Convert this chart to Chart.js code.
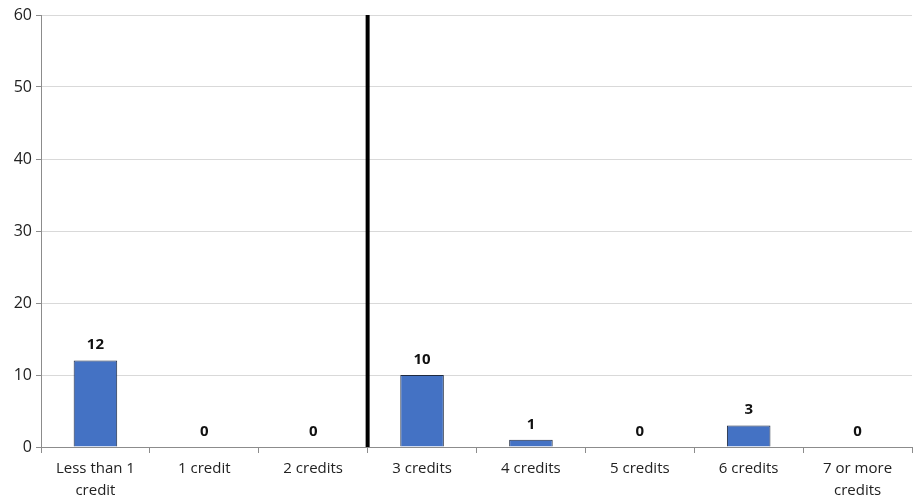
<!DOCTYPE html>
<html>
<head>
<meta charset="utf-8">
<script src="https://cdn.jsdelivr.net/npm/chart.js@4"></script>
<style>
  html, body { margin: 0; padding: 0; background: #fff; }
  #wrap { width: 915px; height: 498px; }
</style>
</head>
<body>
<div id="wrap"><canvas id="creditChart"></canvas></div>
<script>
// categorias e valores
var categories = [['Less than 1', 'credit'], '1 credit', '2 credits', '3 credits', '4 credits', '5 credits', '6 credits', ['7 or more', 'credits']];
var counts = [12, 0, 0, 10, 1, 0, 3, 0];
var yTicks = [0, 10, 20, 30, 40, 50, 60];
var dividerAfter = 2; // linha preta entre "2 credits" e "3 credits"

var fontFamily = "'Open Sans', 'Liberation Sans', sans-serif";

// rótulos em negrito acima das barras
var valueLabels = {
    id: 'valueLabels',
    afterDatasetsDraw: function (chart) {
        var ctx = chart.ctx;
        var meta = chart.getDatasetMeta(0);
        ctx.save();
        ctx.font = 'bold 15px ' + fontFamily;
        ctx.fillStyle = '#111';
        ctx.textAlign = 'center';
        ctx.textBaseline = 'bottom';
        meta.data.forEach(function (bar, i) {
            ctx.fillText(String(counts[i]), bar.x, bar.y - 8);
        });
        ctx.restore();
    }
};

// linha vertical preta
var dividerLine = {
    id: 'dividerLine',
    afterDatasetsDraw: function (chart) {
        var x = chart.scales.x;
        var area = chart.chartArea;
        var px = (x.getPixelForValue(dividerAfter) + x.getPixelForValue(dividerAfter + 1)) / 2;
        var ctx = chart.ctx;
        ctx.save();
        ctx.strokeStyle = '#000';
        ctx.lineWidth = 4;
        ctx.beginPath();
        ctx.moveTo(px, area.top);
        ctx.lineTo(px, area.bottom);
        ctx.stroke();
        ctx.restore();
    }
};

var ctx = document.getElementById('creditChart').getContext('2d');
var chart = new Chart(ctx, {
    type: 'bar',
    data: {
        labels: categories,
        datasets: [{
            data: counts,
            backgroundColor: '#4472C4',
            borderColor: '#1f2a40',
            borderWidth: 1,
            categoryPercentage: 1,
            barPercentage: 0.4
        }]
    },
    options: {
        responsive: true,
        maintainAspectRatio: false,
        animation: false,
        layout: { padding: { top: 15, right: 3, left: 0, bottom: 0 } },
        plugins: {
            legend: { display: false },
            tooltip: { enabled: false }
        },
        scales: {
            x: {
                afterFit: function (axis) { axis.height = 51; },
                grid: {
                    drawOnChartArea: false,
                    offset: true,
                    tickLength: 6,
                    color: '#8c8c8c'
                },
                border: { color: '#8c8c8c' },
                ticks: {
                    color: '#222',
                    font: { family: fontFamily, size: 15, lineHeight: 1.45 },
                    maxRotation: 0,
                    padding: 5
                }
            },
            y: {
                min: 0,
                max: 60,
                afterFit: function (axis) { axis.width = 41; },
                afterBuildTicks: function (axis) {
                    axis.ticks = yTicks.map(function (v) { return { value: v }; });
                },
                grid: {
                    color: '#d9d9d9',
                    tickColor: '#8c8c8c',
                    tickLength: 5
                },
                border: { color: '#8c8c8c' },
                ticks: {
                    color: '#222',
                    font: { family: fontFamily, size: 16 },
                    padding: 4
                }
            }
        }
    },
    plugins: [valueLabels, dividerLine]
});
</script>
</body>
</html>
